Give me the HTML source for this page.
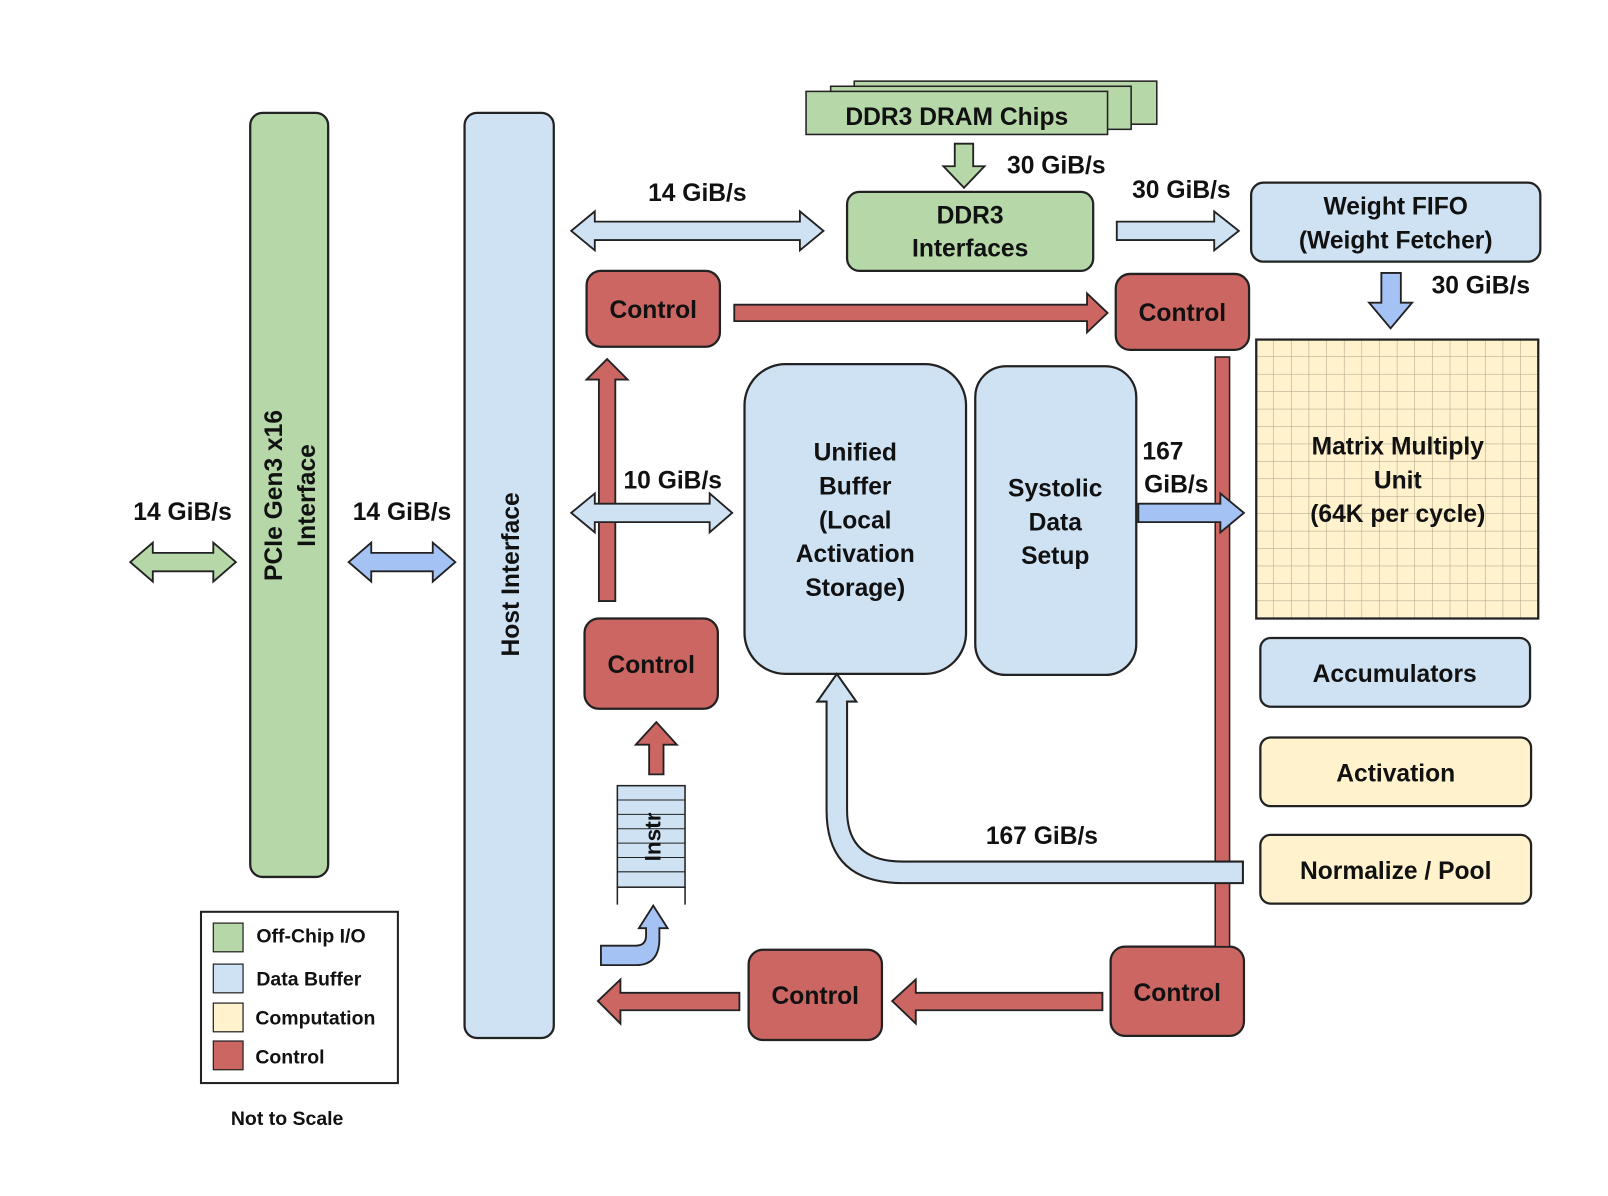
<!DOCTYPE html>
<html><head><meta charset="utf-8"><style>
html,body{margin:0;padding:0;background:#fff;}
svg{display:block;}
text{font-family:"Liberation Sans",Arial,sans-serif;font-weight:bold;fill:#111;}
</style></head><body>
<svg width="1608" height="1196" viewBox="0 0 1568 1166" xmlns="http://www.w3.org/2000/svg">
<defs>
<pattern id="grid" x="1225" y="331" width="17.2" height="17" patternUnits="userSpaceOnUse">
<rect width="17.2" height="17" fill="#fff2cc"/>
<path d="M17.2 0V17M0 17H17.2" stroke="#a89f88" stroke-width="1" fill="none"/>
</pattern>
</defs>
<g stroke="#222" stroke-width="2.2">
<!-- PCIe -->
<rect x="244" y="110" width="76" height="745" rx="12" fill="#b6d7a8"/>
<!-- Host -->
<rect x="453" y="110" width="87" height="902" rx="12" fill="#cfe2f3"/>
<!-- DDR chips -->
<rect x="833" y="79" width="295" height="42" fill="#b6d7a8" stroke-width="1.5"/>
<rect x="810" y="84" width="293" height="42" fill="#b6d7a8" stroke-width="1.5"/>
<rect x="786" y="89" width="294" height="42" fill="#b6d7a8" stroke-width="1.5"/>
<!-- DDR3 interfaces -->
<rect x="826" y="187" width="240" height="77" rx="12" fill="#b6d7a8"/>
<!-- Weight FIFO -->
<rect x="1220" y="178" width="282" height="77" rx="12" fill="#cfe2f3"/>
<!-- Matrix -->
<rect x="1225" y="331" width="275" height="272" fill="url(#grid)"/>
<!-- Controls -->
<rect x="572" y="264" width="130" height="74" rx="14" fill="#cc6662"/>
<rect x="1088" y="267" width="130" height="74" rx="14" fill="#cc6662"/>
<rect x="570" y="603" width="130" height="88" rx="14" fill="#cc6662"/>
<rect x="730" y="926" width="130" height="88" rx="14" fill="#cc6662"/>
<rect x="1083" y="923" width="130" height="87" rx="14" fill="#cc6662"/>
<!-- red vertical bar -->
<rect x="1185" y="348" width="14" height="575" fill="#cc6662" stroke-width="1.5"/>
<!-- Unified buffer & systolic -->
<rect x="726" y="355" width="216" height="302" rx="40" fill="#cfe2f3"/>
<rect x="951" y="357" width="157" height="301" rx="30" fill="#cfe2f3"/>
<!-- bottom right boxes -->
<rect x="1229" y="622" width="263" height="67" rx="10" fill="#cfe2f3"/>
<rect x="1229" y="719" width="264" height="67" rx="10" fill="#fff2cc"/>
<rect x="1229" y="814" width="264" height="67" rx="10" fill="#fff2cc"/>
<!-- arrows -->
<polygon fill="#b6d7a8" stroke-width="1.8" points="127,548 149,529 149,539 208,539 208,529 230,548 208,567 208,557 149,557 149,567"/>
<polygon fill="#a4c2f4" stroke-width="1.8" points="340,548 362,529 362,539 422,539 422,529 444,548 422,567 422,557 362,557 362,567"/>
<polygon fill="#cfe2f3" stroke-width="1.8" points="557,225 580,206 580,216 780,216 780,206 803,225 780,244 780,234 580,234 580,244"/>
<polygon fill="#b6d7a8" stroke-width="1.8" points="931,140 949,140 949,162 960,162 940,183 920,162 931,162"/>
<polygon fill="#cfe2f3" stroke-width="1.8" points="1089,216 1184,216 1184,206 1208,225 1184,244 1184,234 1089,234"/>
<polygon fill="#a4c2f4" stroke-width="1.8" points="1347,266 1366,266 1366,295 1377,295 1356,320 1335,295 1347,295"/>
<polygon fill="#cc6662" stroke-width="1.8" points="716,297 1060,297 1060,286 1080,305 1060,324 1060,313 716,313"/>
<polygon fill="#cc6662" stroke-width="1.8" points="584,586 584,370 572,370 592,350 612,370 600,370 600,586"/>
<polygon fill="#cfe2f3" stroke-width="1.8" points="557,500 580,481 580,491 692,491 692,481 714,500 692,519 692,509 580,509 580,519"/>
<polygon fill="#a4c2f4" stroke-width="1.8" points="1110,491 1190,491 1190,481 1213,500 1190,519 1190,509 1110,509"/>
<polygon fill="#cc6662" stroke-width="1.8" points="633,755 633,726 620,726 640,704 660,726 647,726 647,755"/>
<polygon fill="#cc6662" stroke-width="1.8" points="721,968 605,968 605,955 583,976 605,998 605,985 721,985"/>
<polygon fill="#cc6662" stroke-width="1.8" points="1075,968 893,968 893,955 870,976 893,998 893,985 1075,985"/>
<!-- big curved arrow -->
<path fill="#cfe2f3" stroke-width="2" d="M1212,840 L1212,861 L880,861 Q806,861 806,790 L806,684 L797,684 L816,657 L835,684 L826,684 L826,790 Q826,840 880,840 Z"/>
<!-- instr curve arrow -->
<path fill="#a4c2f4" stroke-width="1.8" d="M586,922 L620,922 Q630,922 630,912 L630,905 L623,905 L637,883 L651,905 L643,905 L643,915 Q643,941 620,941 L586,941 Z"/>
<!-- Instr -->
<rect x="602" y="766" width="66" height="99" fill="#cfe2f3" stroke-width="1.5"/>
<g stroke-width="1"><line x1="602" y1="780" x2="668" y2="780"/><line x1="602" y1="794" x2="668" y2="794"/><line x1="602" y1="808" x2="668" y2="808"/><line x1="602" y1="822" x2="668" y2="822"/><line x1="602" y1="836" x2="668" y2="836"/><line x1="602" y1="850" x2="668" y2="850"/></g>
<line x1="602" y1="865" x2="602" y2="882" stroke-width="1.5"/><line x1="668" y1="865" x2="668" y2="882" stroke-width="1.5"/>
<!-- legend -->
<rect x="196" y="889" width="192" height="167" fill="#fff" stroke-width="2"/>
<rect x="208" y="900" width="29" height="28" fill="#b6d7a8" stroke-width="1.2"/>
<rect x="208" y="940" width="29" height="28" fill="#cfe2f3" stroke-width="1.2"/>
<rect x="208" y="978" width="29" height="28" fill="#fff2cc" stroke-width="1.2"/>
<rect x="208" y="1015" width="29" height="28" fill="#cc6662" stroke-width="1.2"/>
</g>
<g font-size="24" text-anchor="middle">
<text transform="translate(275,483) rotate(-90)">PCIe Gen3 x16</text>
<text transform="translate(307,483) rotate(-90)">Interface</text>
<text transform="translate(506,560) rotate(-90)">Host Interface</text>
<text transform="translate(644,816) rotate(-90)" font-size="22">Instr</text>
<text x="178" y="507">14 GiB/s</text>
<text x="392" y="507">14 GiB/s</text>
<text x="933" y="122">DDR3 DRAM Chips</text>
<text x="1030" y="169">30 GiB/s</text>
<text x="946" y="218">DDR3</text>
<text x="946" y="250">Interfaces</text>
<text x="680" y="196">14 GiB/s</text>
<text x="1152" y="193">30 GiB/s</text>
<text x="1361" y="209">Weight FIFO</text>
<text x="1361" y="242">(Weight Fetcher)</text>
<text x="1444" y="286">30 GiB/s</text>
<text x="1363" y="443">Matrix Multiply</text>
<text x="1363" y="476">Unit</text>
<text x="1363" y="509">(64K per cycle)</text>
<text x="637" y="310">Control</text>
<text x="1153" y="313">Control</text>
<text x="635" y="656">Control</text>
<text x="795" y="979">Control</text>
<text x="1148" y="976">Control</text>
<text x="656" y="476">10 GiB/s</text>
<text x="834" y="449">Unified</text>
<text x="834" y="482">Buffer</text>
<text x="834" y="515">(Local</text>
<text x="834" y="548">Activation</text>
<text x="834" y="581">Storage)</text>
<text x="1029" y="484">Systolic</text>
<text x="1029" y="517">Data</text>
<text x="1029" y="550">Setup</text>
<text x="1134" y="448">167</text>
<text x="1147" y="480">GiB/s</text>
<text x="1016" y="823">167 GiB/s</text>
<text x="1360" y="665">Accumulators</text>
<text x="1361" y="762">Activation</text>
<text x="1361" y="857">Normalize / Pool</text>
</g>
<g font-size="19">
<text x="250" y="919">Off-Chip I/O</text>
<text x="250" y="961">Data Buffer</text>
<text x="249" y="999">Computation</text>
<text x="249" y="1037">Control</text>
<text x="280" y="1097" text-anchor="middle">Not to Scale</text>
</g>
</svg>
</body></html>
